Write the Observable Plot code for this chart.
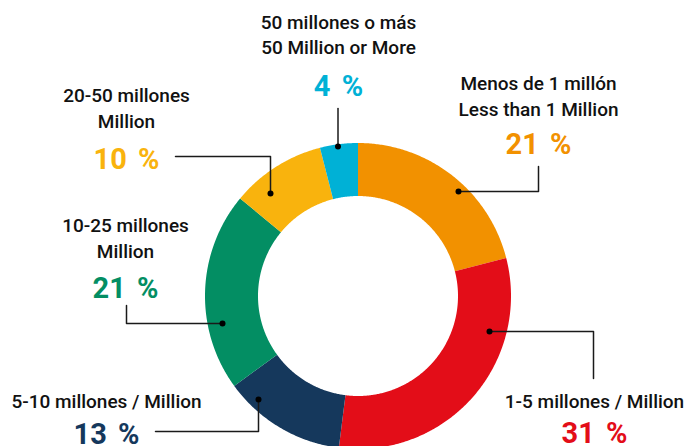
<!DOCTYPE html>
<html><head><meta charset="utf-8">
<script src="https://cdn.jsdelivr.net/npm/d3@7"></script>
<script src="https://cdn.jsdelivr.net/npm/@observablehq/plot@0.6"></script>
<style>
body{margin:0;background:#fff}
svg{display:block}
g[font-size="29"] text{word-spacing:4px}
</style>
</head><body><div id="chart"></div>
<script>
// ---- data ----
const categories = ["Menos de 1 millón","1-5 millones","5-10 millones","10-25 millones","20-50 millones","50 millones o más"];
const values = [21, 31, 13, 21, 10, 4];
const labelLines = [
  ["Menos de 1 millón","Less than 1 Million"],
  ["1-5 millones / Million"],
  ["5-10 millones / Million"],
  ["10-25 millones","Million"],
  ["20-50 millones","Million"],
  ["50 millones o más","50 Million or More"]
];
const colors = ["#F29100","#E30D18","#15385C","#038E63","#F9B30D","#00B1D6"];

// ---- layout ----
const W = 689, H = 446;
const CX = 357.5, CY = 295.5, R_OUT = 153, R_IN = 100;
const labelX = [538, 594, 106, 125, 126, 338];
const lineBaselines = [[89,115],[407],[407],[231,257],[101,127],[28,53]];
const pctBaseline = [153, 442, 443, 297, 168, 95];
const leaderPaths = [
  [[458,191],[538,191],[538,166]],
  [[489,331],[593,331],[593,378]],
  [[258,399],[258,431],[155,431]],
  [[222,323],[126,323],[126,305]],
  [[270,193],[270,156],[175,156]],
  [[337.5,146],[337.5,108]]
];

const rows = categories.map((c,i)=>({category:c, value:values[i]}));
const arcs = d3.pie().sort(null).value(d=>d.value)(rows);
const pt = (r,a)=>[CX + r*Math.sin(a), CY - r*Math.cos(a)];
const slices = arcs.map(p=>{
  const n = Math.max(8, Math.ceil((p.endAngle-p.startAngle)/(Math.PI/360)));
  const ring = [];
  for (let i=0;i<=n;i++) ring.push(pt(R_OUT, p.startAngle + (p.endAngle-p.startAngle)*i/n));
  for (let i=n;i>=0;i--) ring.push(pt(R_IN, p.startAngle + (p.endAngle-p.startAngle)*i/n));
  ring.push(ring[0]);
  return {type:"Feature", properties:{category:p.data.category}, geometry:{type:"Polygon", coordinates:[ring]}};
});

const textRows = [];
labelLines.forEach((lines,i)=>lines.forEach((t,j)=>textRows.push({text:t, x:labelX[i], y:lineBaselines[i][j]})));
const pctRows = rows.map((d,i)=>({text:`${d.value} %`, category:d.category, x:labelX[i], y:pctBaseline[i]}));
const leaderRows = [];
leaderPaths.forEach((path,i)=>path.forEach(([x,y])=>leaderRows.push({category:categories[i], x, y})));
const dotRows = leaderPaths.map((path,i)=>({category:categories[i], x:path[0][0], y:path[0][1]}));

const frame = {type:"Polygon", coordinates:[[[0,0],[W,0],[W,H],[0,H],[0,0]]]};

const chart = Plot.plot({
  width: W, height: H, margin: 0,
  projection: {type:"identity", domain: frame},
  color: {domain: categories, range: colors},
  marks: [
    Plot.geo(slices, {fill: d=>d.properties.category}),
    Plot.line(leaderRows, {x:"x", y:"y", z:"category", stroke:"#1a1a1a", strokeWidth:1.5}),
    Plot.dot(dotRows, {x:"x", y:"y", r:3, fill:"#000"}),
    Plot.text(textRows, {x:"x", y:"y", text:"text", lineAnchor:"bottom", textAnchor:"middle", fontFamily:"Roboto", fontSize:19, fontWeight:500, fill:"#111"}),
    Plot.text(pctRows, {x:"x", y:"y", text:"text", lineAnchor:"bottom", textAnchor:"middle", fontFamily:"Roboto", fontSize:29, fontWeight:700, fill:"category"})
  ]
});
document.getElementById("chart").appendChild(chart);
</script>
</body></html>
